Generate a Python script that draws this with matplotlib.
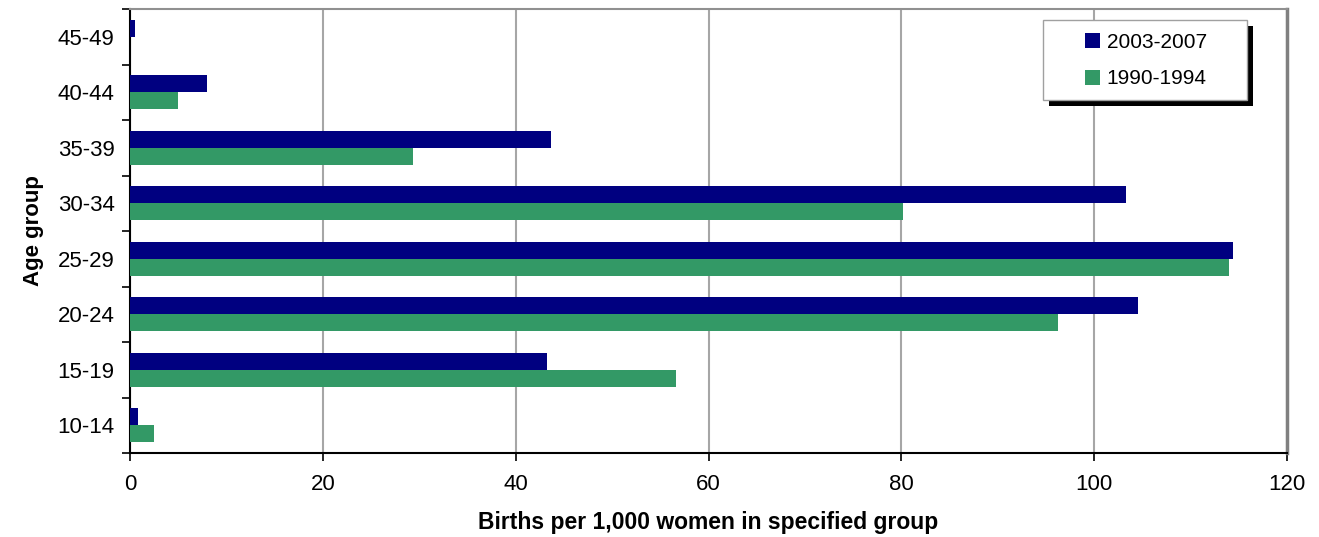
import numpy as np
import matplotlib.pyplot as plt
from matplotlib.patches import Rectangle
from matplotlib.transforms import IdentityTransform

plt.rcParams['font.family'] = ['Liberation Sans', 'DejaVu Sans']

# data
age_groups = ['10-14', '15-19', '20-24', '25-29', '30-34', '35-39', '40-44', '45-49']
rates_2003_2007 = [0.8, 43.2, 104.5, 114.4, 103.3, 43.7, 8.0, 0.5]
rates_1990_1994 = [2.5, 56.6, 96.2, 114.0, 80.2, 29.4, 5.0, 0.0]

navy = '#000080'
green = '#339966'

W, H = 1319, 537
fig = plt.figure(figsize=(W / 100, H / 100), dpi=100)
ax = fig.add_axes([130 / W, 1 - 453 / H, (1287 - 130) / W, (453 - 9) / H])

y = np.arange(len(age_groups))
h = 0.31
ax.barh(y + h / 2, rates_2003_2007, height=h, color=navy, lw=0,
        label='2003-2007', zorder=3)
ax.barh(y - h / 2, rates_1990_1994, height=h, color=green, lw=0,
        label='1990-1994', zorder=3)

ax.set_xlim(0, 120)
ax.set_ylim(-0.5, len(age_groups) - 0.5)
ax.set_xticks(np.arange(0, 121, 20))
ax.set_yticks(y)
ax.set_yticklabels(age_groups)
ax.set_yticks(np.arange(-0.5, len(age_groups)), minor=True)
ax.tick_params(axis='y', which='major', length=0, pad=11, labelsize=16)
ax.tick_params(axis='y', which='minor', length=6, width=1.2, direction='out')
ax.tick_params(axis='x', length=6, width=1.2, pad=9, labelsize=16)

ax.xaxis.grid(True, color='#a6a6a6', lw=1.5, zorder=0)
ax.set_axisbelow(True)

ax.spines['left'].set_color('black')
ax.spines['left'].set_linewidth(1.5)
ax.spines['bottom'].set_color('black')
ax.spines['bottom'].set_linewidth(1.5)
ax.spines['top'].set_color('#909090')
ax.spines['top'].set_linewidth(1.5)
ax.spines['right'].set_color('#808080')
ax.spines['right'].set_linewidth(2.5)

ax.set_xlabel('Births per 1,000 women in specified group', fontsize=16.5, fontweight='bold', labelpad=12)
ax.set_ylabel('Age group', fontsize=16, fontweight='bold', labelpad=10)

# legend content without frame; frame and hard shadow drawn by hand (Excel style)
handles, labels = ax.get_legend_handles_labels()
leg = ax.legend(handles, labels, loc='upper left',
                bbox_to_anchor=(1085 / W, 1 - 33 / H), bbox_transform=fig.transFigure,
                borderaxespad=0, borderpad=0, fontsize=15, handlelength=0.7, handleheight=0.7,
                handletextpad=0.34, labelspacing=0.84, frameon=False)
leg.set_zorder(6)

box_x, box_top, box_w, box_h = 1043, 20, 204, 80
shadow = Rectangle((box_x + 6, H - box_top - box_h - 6), box_w, box_h, transform=IdentityTransform(),
                   facecolor='black', edgecolor='none', zorder=5.4, clip_on=False)
frame = Rectangle((box_x, H - box_top - box_h), box_w, box_h, transform=IdentityTransform(),
                  facecolor='white', edgecolor='#a0a0a0', lw=1.0, zorder=5.5, clip_on=False)
ax.add_patch(shadow)
ax.add_patch(frame)

fig.savefig('out.png', dpi=100)
